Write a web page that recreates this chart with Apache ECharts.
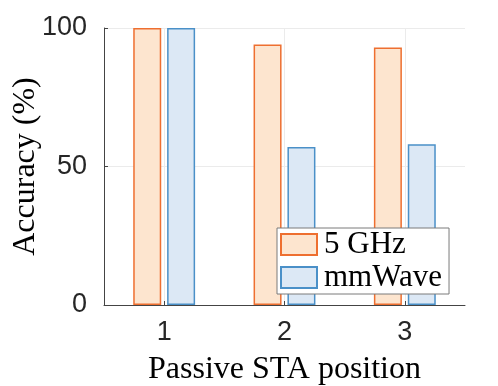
<!DOCTYPE html>
<html>
<head>
<meta charset="UTF-8">
<title>passive sta accuracy</title>
<script src="https://cdn.jsdelivr.net/npm/echarts@6/dist/echarts.min.js"></script>
<style>
  body { margin: 0; padding: 0; background: #fff; }
  #chart { width: 498px; height: 386px; }
</style>
</head>
<body>
<div id="chart"></div>
<script>
// data
var positions = ['1', '2', '3'];
var ghz5 = [100, 94, 93];
var mmwave = [100, 57, 58];
var yTicks = [0, 50, 100];

var chart = echarts.init(document.getElementById('chart'));

var option = {
    animation: false,
    grid: { left: 104, right: 33, top: 28, bottom: 81, containLabel: false, outerBoundsMode: 'none' },
    legend: {
        orient: 'vertical',
        left: 277,
        top: 228,
        padding: [1, 7, 1, 3],
        itemGap: 2,
        itemWidth: 36,
        itemHeight: 21,
        icon: 'rect',
        backgroundColor: '#fff',
        borderColor: '#7a7a7a',
        borderWidth: 1,
        borderRadius: 0,
        textStyle: { fontFamily: 'Liberation Serif', fontSize: 31, color: '#000', padding: [0, 0, 0, 2] },
        data: ['5 GHz', 'mmWave']
    },
    xAxis: {
        type: 'category',
        data: positions,
        name: 'Passive STA position',
        nameLocation: 'middle',
        nameGap: 49,
        nameMoveOverlap: false,
        nameTextStyle: { fontFamily: 'Liberation Serif', fontSize: 32, color: '#000' },
        axisLine: { lineStyle: { color: '#444', width: 1 } },
        axisTick: { show: true, inside: true, length: 4, alignWithLabel: true, lineStyle: { color: '#444' } },
        axisLabel: { fontFamily: 'Liberation Sans', fontSize: 27, color: '#262626', margin: 14 },
        splitLine: { show: true, alignWithLabel: true, lineStyle: { color: '#ebebeb', width: 1 } }
    },
    yAxis: {
        type: 'value',
        min: yTicks[0],
        max: yTicks[yTicks.length - 1],
        interval: 50,
        name: 'Accuracy (%)',
        nameLocation: 'middle',
        nameGap: 62,
        nameMoveOverlap: false,
        nameTextStyle: { fontFamily: 'Liberation Serif', fontSize: 32, color: '#000' },
        axisLine: { show: true, lineStyle: { color: '#444', width: 1 } },
        axisTick: { show: true, inside: true, length: 4, lineStyle: { color: '#444' } },
        axisLabel: { fontFamily: 'Liberation Sans', fontSize: 27, color: '#262626', margin: 17 },
        splitLine: { show: true, lineStyle: { color: '#ebebeb', width: 1 } }
    },
    series: [
        {
            name: '5 GHz',
            type: 'bar',
            data: ghz5,
            barWidth: 28,
            barGap: '21%',
            itemStyle: { color: '#fde5cf', borderColor: '#ee6f30', borderWidth: 1.5 }
        },
        {
            name: 'mmWave',
            type: 'bar',
            data: mmwave,
            barWidth: 28,
            itemStyle: { color: '#dce8f5', borderColor: '#4a90c8', borderWidth: 1.5 }
        }
    ]
};

chart.setOption(option);
</script>
</body>
</html>
